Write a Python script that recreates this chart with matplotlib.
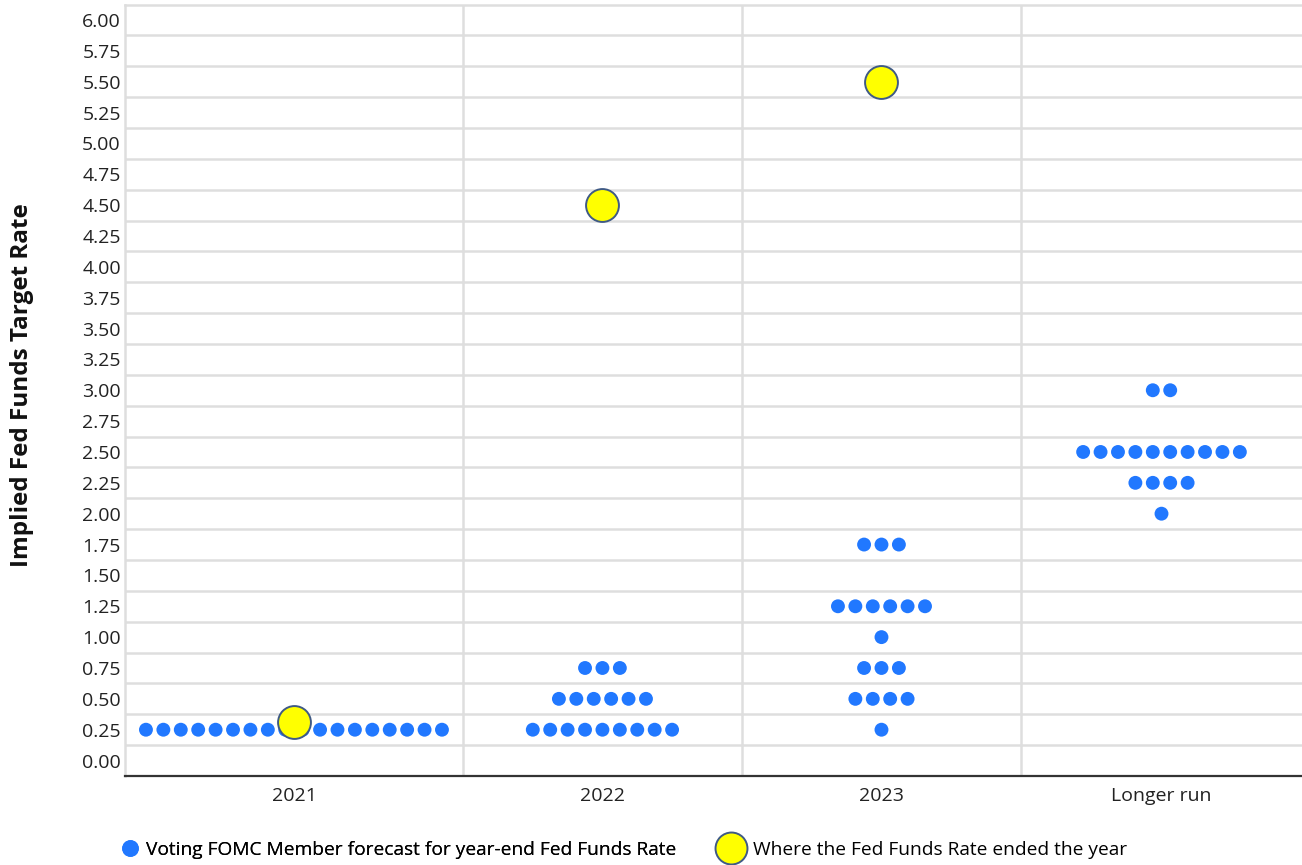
import numpy as np
import matplotlib.pyplot as plt
from matplotlib.lines import Line2D

plt.rcParams['font.family'] = ['Open Sans', 'DejaVu Sans']

categories = ["2021", "2022", "2023", "Longer run"]

# forecast rate levels and number of dots at each level, per column
dot_rates = [
    [0.25],
    [0.25, 0.50, 0.75],
    [0.25, 0.50, 0.75, 1.00, 1.25, 1.75],
    [2.00, 2.25, 2.50, 3.00],
]
dot_counts = [
    [18],
    [9, 6, 3],
    [1, 4, 3, 1, 6, 3],
    [1, 4, 10, 2],
]

# where the rate ended each year (no value for longer run)
ended_rate = [0.31, 4.50, 5.50]

y_ticks = np.arange(0, 6.01, 0.25)

blue = "#2178ff"
grid_c = "#dedede"

fig = plt.figure(figsize=(13.02, 8.65), dpi=100)
ax = fig.add_axes([125 / 1302, 1 - 776 / 865, 1 - 125 / 1302, (776 - 4.5) / 865])

# column edges (first column is a bit wider, like the original)
edges = [-0.711, 0.5, 1.5, 2.5, 3.507]
centers = [(edges[i] + edges[i + 1]) / 2 for i in range(len(categories))]
spacing = 0.0624

for ci, (rates, counts) in enumerate(zip(dot_rates, dot_counts)):
    for r, n in zip(rates, counts):
        xs = centers[ci] + (np.arange(n) - (n - 1) / 2) * spacing
        ax.scatter(xs, [r] * n, s=100, color=blue, edgecolors='none', zorder=3)

ax.scatter(centers[:len(ended_rate)], ended_rate, s=560, color="#ffff00",
           edgecolors="#3f5a85", linewidths=1.4, zorder=4)

ax.set_xlim(edges[0], edges[-1])
ax.set_ylim(-0.125, 6.125)
ax.set_yticks(y_ticks)
ax.set_yticklabels(["{:.2f}".format(v) for v in y_ticks])
ax.set_xticks(centers)
ax.set_xticklabels(categories)
ax.tick_params(axis='both', length=0, labelsize=14, colors="#222222")
ax.tick_params(axis='y', pad=3)
ax.tick_params(axis='x', pad=8)

for yb in np.arange(0.125, 6.0, 0.25):
    ax.axhline(yb, color=grid_c, lw=1.8, zorder=1)
for xb in edges[1:-1]:
    ax.axvline(xb, color=grid_c, lw=1.8, zorder=1)

ax.spines['left'].set_color(grid_c)
ax.spines['left'].set_linewidth(1.8)
ax.spines['top'].set_color(grid_c)
ax.spines['top'].set_linewidth(1.8)
ax.spines['right'].set_visible(False)
ax.spines['bottom'].set_color("#333333")
ax.spines['bottom'].set_linewidth(1.6)

fig.text(22 / 1302, 1 - 385 / 865, "Implied Fed Funds Target Rate", rotation=90,
         ha='center', va='center', fontsize=17.5, fontweight='bold', color="#111111")

h_blue = Line2D([], [], ls='none', marker='o', markersize=12, color=blue, markeredgewidth=0)
h_yel = Line2D([], [], ls='none', marker='o', markersize=23, markerfacecolor="#ffff00",
               markeredgecolor="#3f5a85", markeredgewidth=1.4)

leg1 = fig.legend([h_blue], ["Voting FOMC Member forecast for year-end Fed Funds Rate"],
                  loc='center left', bbox_to_anchor=(118 / 1302, 1 - 850 / 865),
                  frameon=False, fontsize=13.8, handletextpad=0.25, handlelength=1.2,
                  borderpad=0, borderaxespad=0)
leg2 = fig.legend([h_yel], ["Where the Fed Funds Rate ended the year"],
                  loc='center left', bbox_to_anchor=(716 / 1302, 1 - 850 / 865),
                  frameon=False, fontsize=13.8, handletextpad=0.35, handlelength=1.6,
                  borderpad=0, borderaxespad=0)
fig.add_artist(leg1)

fig.savefig("out.png", dpi=100)
